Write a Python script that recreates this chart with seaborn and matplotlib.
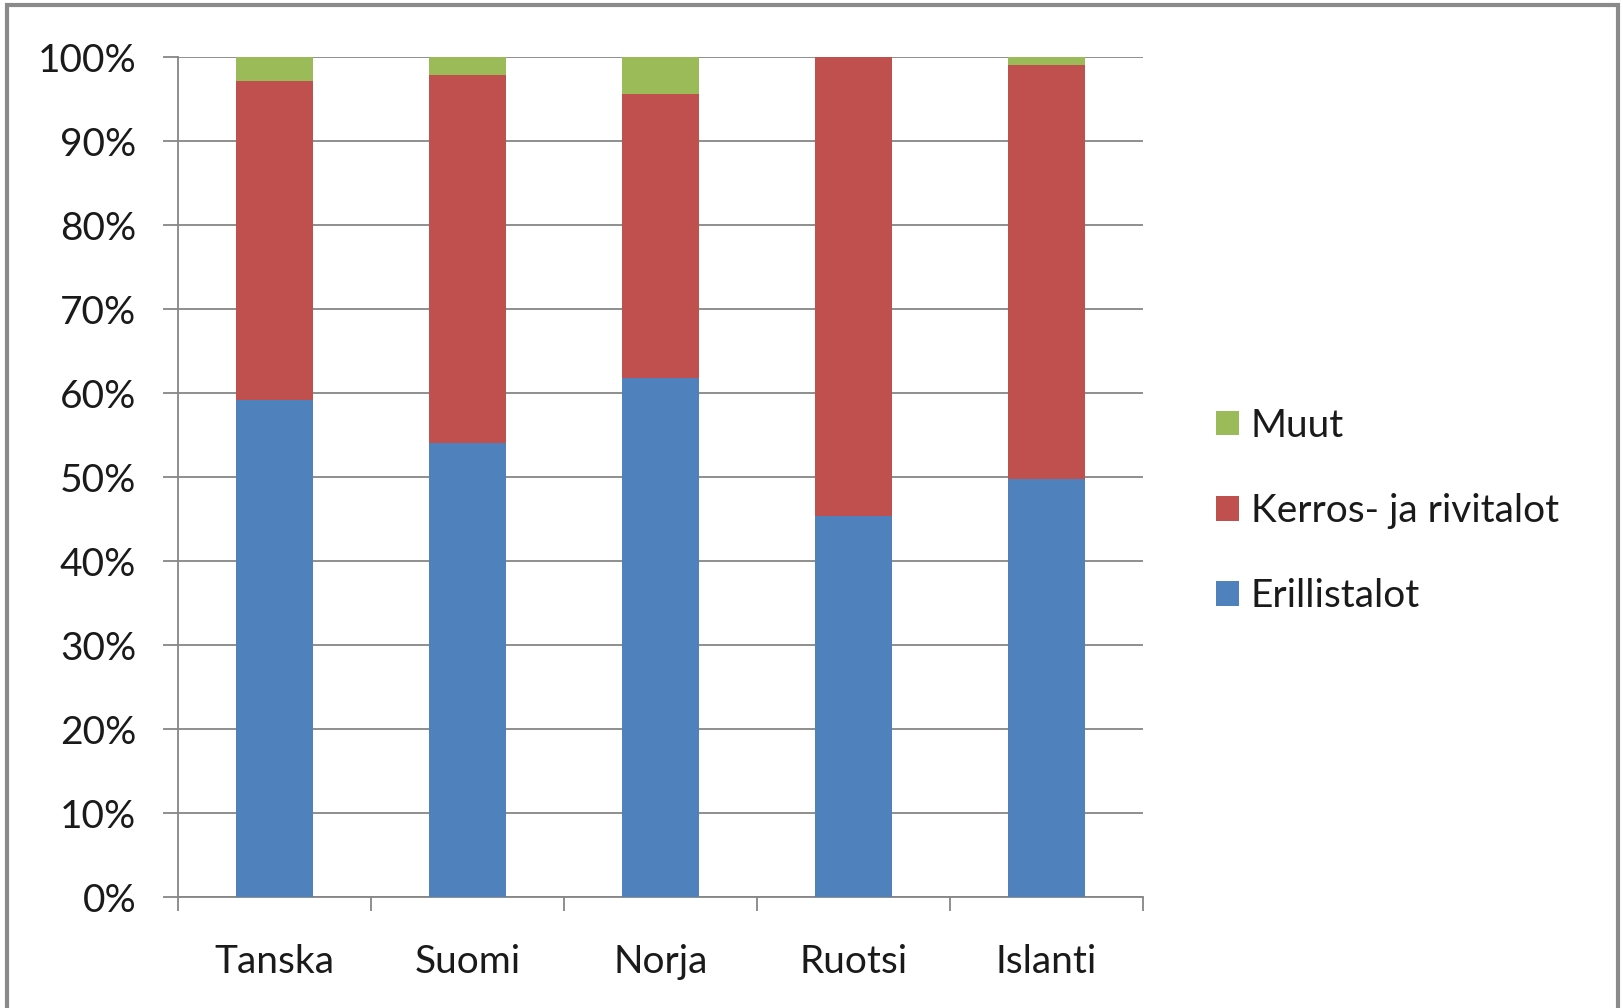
import matplotlib
matplotlib.use("Agg")
import matplotlib.pyplot as plt
from matplotlib.patches import Patch, Rectangle
import numpy as np
import pandas as pd
import seaborn as sns

# Housing stock by building type in the Nordic countries (%)
countries = ["Tanska", "Suomi", "Norja", "Ruotsi", "Islanti"]
erillistalot = [59.2, 54.1, 61.8, 45.3, 49.8]
kerros_rivi = [37.9, 43.8, 33.8, 54.7, 49.2]
muut = [2.9, 2.1, 4.4, 0.0, 1.0]
y_ticks = [0, 10, 20, 30, 40, 50, 60, 70, 80, 90, 100]

series_names = ["Erillistalot", "Kerros- ja rivitalot", "Muut"]
series_colors = ["#4F81BD", "#C0504D", "#9BBB59"]

df = pd.DataFrame({
    "maa": countries,
    "Erillistalot": erillistalot,
    "Kerros- ja rivitalot": kerros_rivi,
    "Muut": muut,
})
# cumulative tops for stacking (drawn from the tallest down)
df["top_blue"] = df["Erillistalot"]
df["top_red"] = df["top_blue"] + df["Kerros- ja rivitalot"]
df["top_green"] = df["top_red"] + df["Muut"]

sns.set_theme(style="white")
plt.rcParams["font.family"] = ["Lato", "DejaVu Sans"]

W, H = 1623, 1008
fig = plt.figure(figsize=(W / 100, H / 100), dpi=100)
ax = fig.add_axes([178 / W, 1 - 897 / H, (1143 - 178) / W, (897 - 57) / H])

grid_col = "#868686"
for col, c in zip(["top_green", "top_red", "top_blue"], series_colors[::-1]):
    sns.barplot(data=df, x="maa", y=col, color=c, width=0.40,
                saturation=1, ax=ax, zorder=3, linewidth=0)

ax.set_ylim(0, 100)
ax.set_xlim(-0.5, len(countries) - 0.5)
ax.set_yticks(y_ticks)
ax.set_yticklabels([f"{v}%" for v in y_ticks])
ax.set_xlabel("")
ax.set_ylabel("")

# horizontal gridlines
ax.yaxis.grid(True, color=grid_col, linewidth=1.3, zorder=0)
ax.xaxis.grid(False)
ax.set_axisbelow(True)

for s in ["top", "right"]:
    ax.spines[s].set_visible(False)
for s in ["left", "bottom"]:
    ax.spines[s].set_visible(True)
    ax.spines[s].set_color(grid_col)
    ax.spines[s].set_linewidth(1.3)

# category labels centred on bars, tick marks on the boundaries
ax.set_xticks(np.arange(len(countries)))
ax.set_xticklabels(countries)
ax.tick_params(axis="x", which="major", bottom=False, length=0, pad=34,
               labelsize=28, labelcolor="#1a1a1a")
ax.set_xticks(np.arange(len(countries) + 1) - 0.5, minor=True)
ax.tick_params(axis="x", which="minor", bottom=True, length=10, width=1.3,
               color=grid_col, direction="out")
ax.tick_params(axis="y", left=True, length=11, width=1.3, color=grid_col,
               pad=19, labelsize=28, labelcolor="#1a1a1a")

# legend (top entry first)
handles = [Patch(facecolor=c, edgecolor="none") for c in series_colors[::-1]]
fig.legend(handles, series_names[::-1], loc="center left",
           bbox_to_anchor=(1200 / W, 1 - 511 / H), frameon=False,
           fontsize=28, handlelength=0.6, handleheight=0.6,
           handletextpad=0.3, labelspacing=1.27, borderaxespad=0,
           labelcolor="#1a1a1a")

# outer chart frame
fig.patches.append(Rectangle((7 / W, -0.02), (1618 - 7) / W, 1.02 - 5 / H,
                             transform=fig.transFigure, fill=False,
                             edgecolor="#8a8a8a", linewidth=3))

fig.savefig("out.png", dpi=100, facecolor="white")
